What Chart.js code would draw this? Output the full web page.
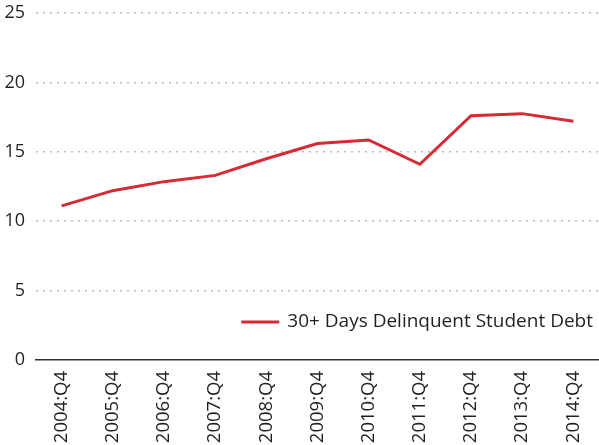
<!DOCTYPE html>
<html>
<head>
<meta charset="utf-8">
<script src="https://cdn.jsdelivr.net/npm/chart.js@4/dist/chart.umd.min.js"></script>
<style>
  html, body { margin: 0; padding: 0; background: #fff; }
  #wrap { width: 599px; height: 445px; }
</style>
</head>
<body>
<div id="wrap"><canvas id="debt-chart"></canvas></div>
<script>
const quarters = ["2004:Q4", "2005:Q4", "2006:Q4", "2007:Q4", "2008:Q4", "2009:Q4",
                  "2010:Q4", "2011:Q4", "2012:Q4", "2013:Q4", "2014:Q4"];
const delinquentPct = [11.1, 12.2, 12.85, 13.3, 14.5, 15.6, 15.85, 14.1, 17.6, 17.75, 17.2];
const yTicks = [0, 5, 10, 15, 20, 25];
const seriesLabel = "30+ Days Delinquent Student Debt";

const textColor = "#231f20";
const lineColor = "#d62a35";

// legend sits inside the plot, bottom right
const insideLegend = {
    id: "insideLegend",
    afterDatasetsDraw(chart) {
        const { ctx, chartArea } = chart;
        const ds = chart.data.datasets[0];
        ctx.save();
        ctx.font = "19px 'Open Sans'";
        ctx.fillStyle = textColor;
        ctx.textAlign = "right";
        ctx.textBaseline = "middle";
        const xEnd = chartArea.right - 6;
        const y = chartArea.bottom - 38;
        ctx.fillText(ds.label, xEnd, y);
        const w = ctx.measureText(ds.label).width;
        const x0 = xEnd - w - 8;
        ctx.strokeStyle = ds.borderColor;
        ctx.lineWidth = 3;
        ctx.beginPath();
        ctx.moveTo(x0 - 38, y);
        ctx.lineTo(x0, y);
        ctx.stroke();
        ctx.restore();
    }
};

function initChart() {
    const el = document.getElementById("debt-chart");
    new Chart(el, {
        type: "line",
        data: {
            labels: quarters,
            datasets: [
                {
                    label: seriesLabel,
                    data: delinquentPct,
                    borderColor: lineColor,
                    backgroundColor: lineColor,
                    borderWidth: 3,
                    pointRadius: 0,
                    tension: 0,
                    fill: false,
                },
            ],
        },
        options: {
            responsive: true,
            maintainAspectRatio: false,
            animation: false,
            layout: { padding: 0 },
            plugins: {
                legend: { display: false },
                tooltip: { enabled: false },
            },
            scales: {
                x: {
                    offset: true,
                    afterFit: (axis) => {
                        axis.height = 85;
                        axis.paddingLeft = 0;
                        axis.paddingRight = 0;
                    },
                    grid: { display: false, drawTicks: false },
                    border: { display: true, color: "#333", width: 1.5 },
                    ticks: {
                        minRotation: 90,
                        maxRotation: 90,
                        padding: 11,
                        color: textColor,
                        font: { family: "'Open Sans'", size: 18.5 },
                    },
                },
                y: {
                    min: yTicks[0],
                    max: yTicks[yTicks.length - 1],
                    afterBuildTicks: (axis) => {
                        axis.ticks = yTicks.map((v) => ({ value: v }));
                    },
                    afterFit: (axis) => {
                        axis.width = 36;
                        axis.paddingTop = 13;
                        axis.paddingBottom = 0;
                    },
                    grid: {
                        drawTicks: false,
                        color: (c) => (c.tick && c.tick.value === 0 ? "rgba(0,0,0,0)" : "#bbbbbb"),
                        lineWidth: 1.5,
                    },
                    border: { display: false, dash: [2, 5] },
                    ticks: {
                        padding: 11,
                        color: textColor,
                        font: { family: "'Open Sans'", size: 18 },
                    },
                },
            },
        },
        plugins: [insideLegend],
    });
}

document.addEventListener("DOMContentLoaded", () => {
    initChart();
});
</script>
</body>
</html>
